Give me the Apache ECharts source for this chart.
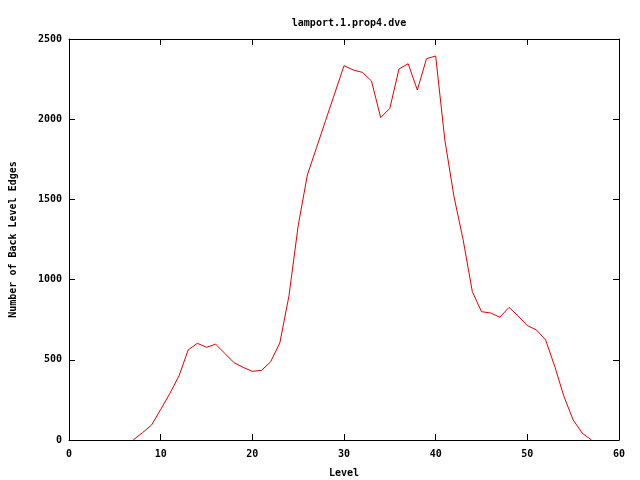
<!DOCTYPE html>
<html>
<head>
<meta charset="utf-8">
<script src="https://cdn.jsdelivr.net/npm/echarts@6/dist/echarts.min.js"></script>
<style>html,body{margin:0;padding:0;background:#fff;}#c{width:640px;height:480px;}</style>
</head>
<body>
<div id="c"></div>
<script>
var levels = [7,8,9,10,11,12,13,14,15,16,17,18,19,20,21,22,23,24,25,26,27,28,29,30,31,32,33,34,35,36,37,38,39,40,41,42,43,44,45,46,47,48,49,50,51,52,53,54,55,56,57];
var edges = [0,45,93,190,290,400,561,603,578,597,540,482,453,428,434,488,605,900,1335,1652,1822,1993,2163,2334,2307,2292,2238,2010,2068,2313,2346,2182,2377,2394,1870,1517,1247,925,800,792,765,827,773,713,686,623,457,270,125,42,0];
var xTicks = {min:0, max:60, interval:10};
var yTicks = {min:0, max:2500, interval:500};

var font = 'DejaVu Sans Mono';
var chart = echarts.init(document.getElementById('c'), null, {renderer:'canvas'});
var axisLine = {show:true, onZero:false, lineStyle:{color:'#000', width:1}};
var tick = {show:true, inside:true, length:6, lineStyle:{color:'#000'}};
var lbl = {fontFamily:font, fontWeight:'bold', fontSize:10, color:'#000'};
var plain = function(v){ return String(v); };
chart.setOption({
  animation:false,
  backgroundColor:'#fff',
  title:{text:'lamport.1.prop4.dve', left:344, top:13, textAlign:'center',
    textStyle:{fontFamily:font, fontWeight:'bold', fontSize:10, color:'#000'}},
  grid:{left:69, right:21, top:39, bottom:40, containLabel:false, outerBoundsMode:'none'},
  xAxis:[{type:'value', min:xTicks.min, max:xTicks.max, interval:xTicks.interval, position:'bottom',
    axisLine:axisLine, axisTick:tick, splitLine:{show:false},
    axisLabel:Object.assign({margin:9, formatter:plain}, lbl),
    name:'Level', nameLocation:'middle', nameGap:28, nameTextStyle:lbl},
   {type:'value', min:xTicks.min, max:xTicks.max, interval:xTicks.interval, position:'top',
    axisLine:axisLine, axisTick:tick, splitLine:{show:false}, axisLabel:{show:false}}],
  yAxis:[{type:'value', min:yTicks.min, max:yTicks.max, interval:yTicks.interval, position:'left',
    axisLine:axisLine, axisTick:tick, splitLine:{show:false},
    axisLabel:Object.assign({margin:7, formatter:plain}, lbl),
    name:'Number of Back Level Edges', nameLocation:'middle', nameGap:51, nameRotate:90, nameTextStyle:lbl},
   {type:'value', min:yTicks.min, max:yTicks.max, interval:yTicks.interval, position:'right',
    axisLine:axisLine, axisTick:tick, splitLine:{show:false}, axisLabel:{show:false}}],
  series:[{type:'line', data:levels.map(function(l,i){return [l, edges[i]];}),
    showSymbol:false, symbol:'none', lineStyle:{color:'#e00000', width:1}, itemStyle:{color:'#e00000'}}]
});
</script>
</body>
</html>
